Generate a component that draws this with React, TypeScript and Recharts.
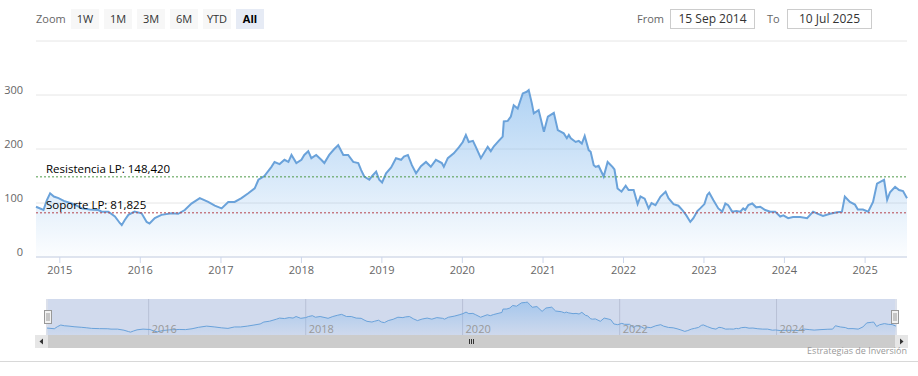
import { AreaChart, Area, XAxis, YAxis, CartesianGrid, ReferenceLine } from 'recharts';

const dates = [
  '2014-09-15', '2014-10-19', '2014-11-03', '2014-11-18', '2014-12-05', '2014-12-26',
  '2015-01-19', '2015-02-24', '2015-03-19', '2015-04-11', '2015-05-17', '2015-06-25', '2015-07-10',
  '2015-08-09', '2015-09-08', '2015-09-30', '2015-10-09', '2015-10-22', '2015-11-08', '2015-12-06',
  '2016-01-07', '2016-01-30', '2016-02-12', '2016-03-07', '2016-04-06', '2016-05-22', '2016-06-21',
  '2016-07-21', '2016-08-20', '2016-09-27', '2016-11-04', '2016-12-04',
  '2017-01-04', '2017-02-03', '2017-03-04', '2017-04-04', '2017-05-05', '2017-06-03', '2017-06-20',
  '2017-07-17', '2017-08-18', '2017-09-01', '2017-09-24', '2017-10-16', '2017-11-03', '2017-11-17',
  '2017-12-09',
  '2018-01-01', '2018-01-14', '2018-02-01', '2018-02-15', '2018-03-09', '2018-04-01', '2018-04-15',
  '2018-05-07', '2018-05-30', '2018-06-17', '2018-07-10', '2018-08-01', '2018-08-24', '2018-09-16',
  '2018-09-29', '2018-10-13', '2018-11-05', '2018-11-18', '2018-12-06', '2018-12-20',
  '2019-01-02', '2019-01-20', '2019-02-12', '2019-03-06', '2019-03-29', '2019-04-11', '2019-04-29',
  '2019-05-17', '2019-06-05', '2019-06-27', '2019-07-20', '2019-08-11', '2019-09-03', '2019-09-30',
  '2019-10-09', '2019-10-27', '2019-11-23', '2019-12-16',
  '2020-01-03', '2020-01-17', '2020-01-30', '2020-02-18', '2020-03-02', '2020-03-25', '2020-04-25',
  '2020-05-09', '2020-05-23', '2020-06-14', '2020-07-02', '2020-07-07', '2020-07-25', '2020-08-08',
  '2020-08-21', '2020-09-08', '2020-10-01', '2020-10-19', '2020-10-28', '2020-11-11', '2020-11-20',
  '2020-12-12',
  '2021-01-05', '2021-01-23', '2021-02-19', '2021-03-09', '2021-04-05', '2021-04-19', '2021-04-28',
  '2021-05-07', '2021-05-29', '2021-06-12', '2021-06-26', '2021-07-09', '2021-07-27', '2021-08-05',
  '2021-08-19', '2021-08-28', '2021-09-10', '2021-10-03', '2021-10-21', '2021-11-12', '2021-11-21',
  '2021-12-05', '2021-12-23',
  '2022-01-11', '2022-01-24', '2022-02-16', '2022-03-06', '2022-03-19', '2022-04-07', '2022-04-25',
  '2022-05-08', '2022-05-26', '2022-06-18', '2022-07-11', '2022-07-24', '2022-08-16', '2022-09-07',
  '2022-09-25', '2022-10-13', '2022-10-31', '2022-11-14', '2022-12-02', '2022-12-15',
  '2023-01-03', '2023-01-16', '2023-01-25', '2023-02-13', '2023-03-07', '2023-03-25', '2023-04-08',
  '2023-04-21', '2023-05-09', '2023-05-28', '2023-06-15', '2023-06-28', '2023-07-07', '2023-07-21',
  '2023-08-08', '2023-08-26', '2023-09-13', '2023-10-06', '2023-10-29', '2023-11-20', '2023-12-13',
  '2023-12-27',
  '2024-01-18', '2024-02-09', '2024-03-12', '2024-04-13', '2024-05-10', '2024-06-01', '2024-06-24',
  '2024-07-26', '2024-08-27', '2024-09-18', '2024-10-01', '2024-10-24', '2024-11-16', '2024-11-29',
  '2024-12-22',
  '2025-01-15', '2025-02-06', '2025-02-24', '2025-03-19', '2025-03-28', '2025-04-11', '2025-04-24',
  '2025-05-17', '2025-06-04', '2025-06-22', '2025-07-10',
];

const prices = [
  93, 87, 105, 118, 112, 109,
  104, 99, 95, 90, 88, 87, 84,
  84, 75, 63, 59, 68, 78, 84,
  81, 65, 62, 72, 78, 81, 80,
  87, 99, 109, 102, 95,
  90, 102, 102, 109, 118, 127, 143,
  150, 167, 176, 172, 180, 176, 189,
  174,
  180, 189, 196, 183, 189, 180, 174,
  189, 200, 207, 189, 189, 176, 174,
  161, 149, 143, 150, 158, 143,
  138, 155, 166, 183, 180, 186, 189,
  170, 155, 168, 176, 167, 180, 174,
  167, 183, 192, 203,
  213, 226, 213, 215, 204, 183, 204,
  196, 205, 215, 223, 251, 252, 260,
  281, 275, 303, 306, 309, 285, 266,
  272,
  232, 260, 267, 235, 229, 220, 226,
  220, 213, 215, 210, 224, 198, 195,
  170, 167, 169, 149, 176, 167, 162,
  127, 121,
  132, 124, 124, 98, 112, 108, 90,
  100, 96, 112, 121, 109, 98, 95,
  87, 77, 65, 72, 85, 90,
  98, 115, 119, 105, 90, 84, 99,
  96, 84, 85, 84, 90, 87, 96,
  99, 92, 93, 87, 84, 84, 75,
  77,
  72, 74, 74, 72, 84, 80, 76,
  80, 83, 84, 112, 102, 97, 88,
  88,
  84, 102, 136, 141, 143, 106, 120,
  130, 124, 122, 109,
];

const yearTicks = [2015, 2016, 2017, 2018, 2019, 2020, 2021, 2022, 2023, 2024, 2025];
const navYears = [2016, 2018, 2020, 2022, 2024];
const yTicks = [0, 100, 200, 300, 400];
const rangeButtons = ['1W', '1M', '3M', '6M', 'YTD', 'All'];
const resistance = 148.42;
const support = 81.825;
const resistanceLabel = 'Resistencia LP: 148,420';
const supportLabel = 'Soporte LP: 81,825';
const fromText = '15 Sep 2014';
const toText = '10 Jul 2025';
const creditText = 'Estrategias de Inversión';

const toTs = (s: string) => {
  const [y, m, d] = s.split('-').map(Number);
  return Date.UTC(y, m - 1, d);
};
const data = dates.map((d, i) => ({ t: toTs(d), v: prices[i] }));
const start = data[0].t;
const end = data[data.length - 1].t;
const yearTs = yearTicks.map((y) => Date.UTC(y, 0, 1));
const navTs = navYears.map((y) => Date.UTC(y, 0, 1));

const FONT = '"Open Sans", "DejaVu Sans", sans-serif';
const LINE = '#6aa2da';

const XTick = (props: any) => {
  const { x, y, payload } = props;
  return (
    <text x={x} y={y + 9} textAnchor="middle" fill="#666" fontSize={11} fontFamily={FONT}>
      {new Date(payload.value).getUTCFullYear()}
    </text>
  );
};

// labels sit left of the plot, right aligned, just above their grid line
const YTick = (props: any) => {
  const { x, y, payload } = props;
  if (payload.value === 400) return null;
  return (
    <text x={x - 13} y={y - 1} textAnchor="end" fill="#666" fontSize={11} fontFamily={FONT}>
      {payload.value}
    </text>
  );
};

const NavTick = (props: any) => {
  const { x, y, payload } = props;
  return (
    <text x={x + 3} y={y - 2} textAnchor="start" fill="#999" fontSize={11} fontFamily={FONT}>
      {new Date(payload.value).getUTCFullYear()}
    </text>
  );
};

const lineLabel = (text: string) => (p: any) => {
  const vb = p.viewBox;
  return (
    <text x={vb.x + 10} y={vb.y - 4} fill="#000" fontSize={11.5} fontFamily={FONT}>
      {text}
    </text>
  );
};

const btn = (label: string, i: number) => {
  const active = label === 'All';
  return (
    <div
      key={label}
      style={{
        position: 'absolute', left: 71 + i * 33, top: 9, width: 28, height: 20,
        background: active ? '#e6ebf5' : '#f7f7f7', color: active ? '#000' : '#333',
        fontWeight: active ? 700 : 400, fontSize: 11, lineHeight: '20px', textAlign: 'center',
      }}
    >
      {label}
    </div>
  );
};

const inputBox = (text: string, left: number) => (
  <div
    style={{
      position: 'absolute', left, top: 9, width: 83, height: 18, border: '1px solid #ccc',
      fontSize: 12, lineHeight: '18px', textAlign: 'center', color: '#333',
    }}
  >
    {text}
  </div>
);

const Handle = ({ x }: { x: number }) => (
  <g>
    <rect x={x - 3.5} y={310.5} width={7} height={13} fill="#f2f2f2" stroke="#999" />
    <line x1={x - 1} x2={x - 1} y1={313} y2={321} stroke="#999" />
    <line x1={x + 1} x2={x + 1} y1={313} y2={321} stroke="#999" />
  </g>
);

export default function App() {
  return (
    <div style={{ position: 'absolute', left: 0, top: 0, width: 918, height: 376, background: '#fff', fontFamily: FONT }}>
      <div style={{ position: 'absolute', left: 36, top: 9, fontSize: 11, lineHeight: '20px', color: '#666' }}>Zoom</div>
      {rangeButtons.map(btn)}
      <div style={{ position: 'absolute', left: 637, top: 9, fontSize: 11, lineHeight: '20px', color: '#666' }}>From</div>
      {inputBox(fromText, 670)}
      <div style={{ position: 'absolute', left: 767, top: 9, fontSize: 11, lineHeight: '20px', color: '#666' }}>To</div>
      {inputBox(toText, 787)}

      <div style={{ position: 'absolute', left: 0, top: 0 }}>
        <AreaChart width={918} height={280} data={data} margin={{ top: 41, right: 11, bottom: 0, left: 36 }}>
          <defs>
            <linearGradient id="mainFill" x1="0" y1="0" x2="0" y2="1">
              <stop offset="0%" stopColor="#7cb5ec" stopOpacity={1} />
              <stop offset="100%" stopColor="#7cb5ec" stopOpacity={0.04} />
            </linearGradient>
          </defs>
          <CartesianGrid vertical={false} stroke="#e6e6e6" />
          <XAxis
            dataKey="t" type="number" domain={[start, end]} ticks={yearTs} interval={0}
            height={23} stroke="#ccd6eb" tickSize={6} tick={<XTick />}
          />
          <YAxis
            domain={[0, 400]} ticks={yTicks} interval={0} mirror width={40}
            axisLine={false} tickLine={false} tickSize={0} tickMargin={0} tick={<YTick />}
          />
          <Area type="linear" dataKey="v" stroke={LINE} strokeWidth={2} fill="url(#mainFill)" isAnimationActive={false} dot={false} activeDot={false} />
          <ReferenceLine y={resistance} stroke="#4f9a48" strokeDasharray="2 2" strokeWidth={1} label={lineLabel(resistanceLabel)} />
          <ReferenceLine y={support} stroke="#b5444c" strokeDasharray="2 2" strokeWidth={1} label={lineLabel(supportLabel)} />
        </AreaChart>
      </div>

      <div style={{ position: 'absolute', left: 48, top: 299, width: 847, height: 36, background: '#d1daed' }} />
      <div style={{ position: 'absolute', left: 0, top: 299 }}>
        <AreaChart width={918} height={36} data={data} margin={{ top: 0, right: 22, bottom: 0, left: 47 }}>
          <defs>
            <linearGradient id="navFill" x1="0" y1="0" x2="0" y2="1">
              <stop offset="0%" stopColor="#7cb5ec" stopOpacity={0.85} />
              <stop offset="100%" stopColor="#7cb5ec" stopOpacity={0.05} />
            </linearGradient>
          </defs>
          <CartesianGrid horizontal={false} stroke="#b8c1d6" />
          <XAxis
            dataKey="t" type="number" domain={[start, end]} ticks={navTs} interval={0}
            mirror height={20} axisLine={false} tickLine={false} tickSize={0} tickMargin={0} tick={<NavTick />}
          />
          <YAxis hide domain={[35, 335]} />
          <Area type="linear" dataKey="v" stroke={LINE} strokeWidth={1} fill="url(#navFill)" isAnimationActive={false} dot={false} activeDot={false} />
        </AreaChart>
      </div>

      <svg width={918} height={376} style={{ position: 'absolute', left: 0, top: 0, pointerEvents: 'none' }}>
        <rect x={35.5} y={335.5} width={872} height={12} fill="#f2f2f2" />
        <rect x={48} y={335} width={847} height={13} fill="#cccccc" />
        <rect x={35} y={335} width={13} height={13} fill="#e6e6e6" />
        <path d="M 43 338.5 L 43 344.5 L 39.5 341.5 Z" fill="#333" />
        <rect x={895} y={335} width={13} height={13} fill="#e6e6e6" />
        <path d="M 900 338.5 L 900 344.5 L 903.5 341.5 Z" fill="#333" />
        <line x1={469.5} x2={469.5} y1={339} y2={344} stroke="#333" />
        <line x1={471.5} x2={471.5} y1={339} y2={344} stroke="#333" />
        <line x1={473.5} x2={473.5} y1={339} y2={344} stroke="#333" />
        <Handle x={48} />
        <Handle x={895} />
        <line x1={0} x2={918} y1={361.5} y2={361.5} stroke="#d8d8d8" />
        <text x={907} y={354} textAnchor="end" fill="#999" fontSize={9} fontFamily={FONT}>{creditText}</text>
      </svg>
    </div>
  );
}
